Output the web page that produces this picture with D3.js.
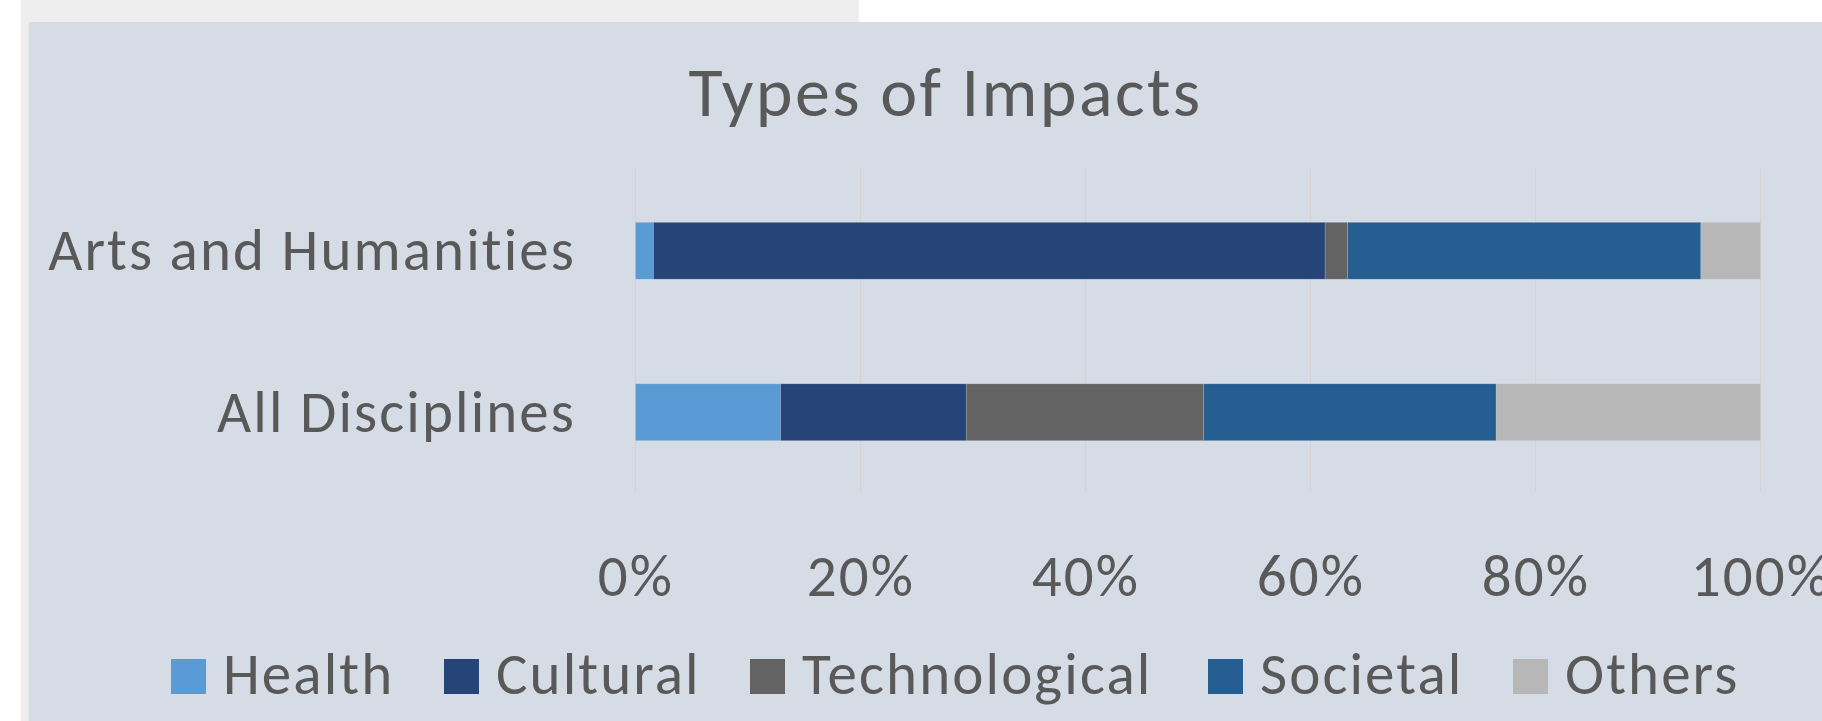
<!DOCTYPE html>
<html>
<head>
<meta charset="utf-8">
<script src="https://cdn.jsdelivr.net/npm/d3@7"></script>
<style>
  html, body { margin: 0; padding: 0; background: #ffffff; overflow: hidden; }
  svg { display: block; }
</style>
</head>
<body>
<svg id="chart" width="1822" height="721"></svg>
<script>
// ---- data ----
const categories = ["Arts and Humanities", "All Disciplines"];
const seriesNames = ["Health", "Cultural", "Technological", "Societal", "Others"];
const health        = [1.6, 12.9];
const cultural      = [59.7, 16.5];
const technological = [2.0, 21.1];
const societal      = [31.4, 26.0];
const others        = [5.3, 23.5];
const tickValues = [0, 0.2, 0.4, 0.6, 0.8, 1.0];
const titleText = "Types of Impacts";

// ---- styles ----
const colors = ["#5b9bd5", "#264478", "#636363", "#255e91", "#b7b7b7"];
const font = "Calibri, Carlito, Lato, sans-serif";
const textColor = "#595959";
const labelSize = 59, labelSpacing = 2.1;

const svg = d3.select("#chart");
const W = 1822, H = 721;

// page background pieces
svg.append("rect").attr("x", 0).attr("y", 0).attr("width", W).attr("height", H).attr("fill", "#ffffff");
svg.append("rect").attr("x", 20.5).attr("y", 0).attr("width", 838.5).attr("height", H).attr("fill", "#eeeeee");
svg.append("rect").attr("x", 28.7).attr("y", 22).attr("width", W - 28.7).attr("height", H - 22).attr("fill", "#d6dce5");

// rows -> percentage shares
const seriesArrays = [health, cultural, technological, societal, others];
const rows = categories.map((c, i) => {
  const o = { category: c };
  const total = d3.sum(seriesArrays, a => a[i]);
  seriesNames.forEach((s, k) => { o[s] = seriesArrays[k][i] / total; });
  return o;
});

const plotTop = 169, plotBottom = 493;
const x = d3.scaleLinear().domain([0, 1]).range([635.5, 1760.5]);
const y = d3.scaleBand().domain(categories).range([plotTop + 1, plotBottom]).padding(0);
const barH = y.bandwidth() * 0.352;

// gridlines
svg.append("g")
  .selectAll("line")
  .data(tickValues)
  .join("line")
  .attr("x1", d => x(d)).attr("x2", d => x(d))
  .attr("y1", plotTop - 1).attr("y2", plotBottom - 1)
  .attr("stroke", "#d3d3d6")
  .attr("stroke-width", 1.2);

// stacked bars
const stack = d3.stack().keys(seriesNames);
const stacked = stack(rows);
svg.append("g")
  .selectAll("g")
  .data(stacked)
  .join("g")
  .attr("fill", (d, i) => colors[i])
  .selectAll("rect")
  .data(d => d)
  .join("rect")
  .attr("x", d => x(d[0]))
  .attr("width", d => x(d[1]) - x(d[0]))
  .attr("y", d => y(d.data.category) + (y.bandwidth() - barH) / 2)
  .attr("height", barH)
  .attr("stroke", "#d6dce5")
  .attr("stroke-opacity", 0.35)
  .attr("stroke-width", 0.6);

// title
svg.append("text")
  .attr("x", 945.5).attr("y", 116)
  .attr("text-anchor", "middle")
  .attr("font-family", font)
  .attr("font-size", 70)
  .attr("letter-spacing", 2.4)
  .attr("fill", textColor)
  .text(titleText);

// category axis labels
const yAxis = d3.axisLeft(y).tickSize(0).tickPadding(0);
const yg = svg.append("g").attr("transform", "translate(576,0)").call(yAxis);
yg.select(".domain").remove();
yg.selectAll("text")
  .attr("font-family", font)
  .attr("font-size", labelSize)
  .attr("letter-spacing", labelSpacing)
  .attr("fill", textColor)
  .attr("dy", "0.33em");

// value axis labels
const xAxis = d3.axisBottom(x).tickValues(tickValues).tickFormat(d3.format(".0%")).tickSize(0).tickPadding(0);
const xg = svg.append("g").attr("transform", "translate(0,596)").call(xAxis);
xg.select(".domain").remove();
xg.selectAll("text")
  .attr("font-family", font)
  .attr("font-size", labelSize)
  .attr("letter-spacing", labelSpacing)
  .attr("fill", textColor)
  .attr("dy", 0)
  .attr("y", 0);

// legend
const legendX = [171, 444, 750, 1208, 1513];
const lg = svg.append("g");
seriesNames.forEach((s, i) => {
  lg.append("rect")
    .attr("x", legendX[i]).attr("y", 659)
    .attr("width", 35).attr("height", 35)
    .attr("fill", colors[i]);
  lg.append("text")
    .attr("x", legendX[i] + 52).attr("y", 694)
    .attr("font-family", font)
    .attr("font-size", labelSize)
    .attr("letter-spacing", labelSpacing)
    .attr("fill", textColor)
    .text(s);
});
</script>
</body>
</html>
